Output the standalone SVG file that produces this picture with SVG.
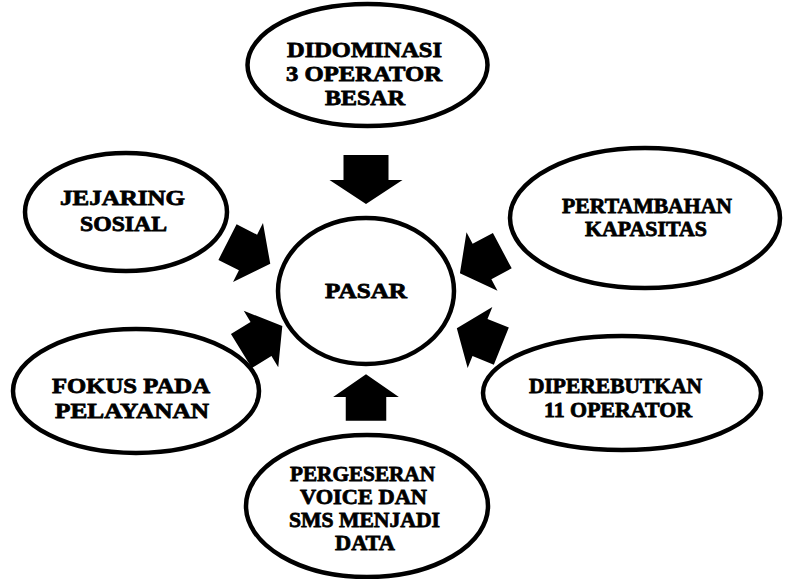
<svg xmlns="http://www.w3.org/2000/svg" xmlns:xlink="http://www.w3.org/1999/xlink" width="785" height="579" viewBox="0 0 785 579">
<style>
.node ellipse{fill:#fff;stroke:#000;stroke-width:4.5}
.node text{font-family:"Liberation Serif","Times New Roman",serif;font-weight:bold;font-size:22px;fill:#000;stroke:#000;stroke-width:0.8;text-anchor:middle}
.arrow{fill:#000}
</style>
<defs>
<path id="arrV" d="M-25,-22.5 L0,-22.5 L0,-36.5 L24,0 L0,36.5 L0,22.5 L-25,22.5 Z"/>
<path id="arrS" d="M-23,-20 L0,-20 L0,-33 L25,0 L0,33 L0,20 L-23,20 Z"/>
</defs>
<rect width="785" height="579" fill="#fff"/>
<g id="connectors" class="arrow">
<use xlink:href="#arrV" transform="translate(366,180) rotate(90)"/>
<use xlink:href="#arrV" transform="translate(366,397) rotate(-90) scale(0.95,0.9)"/>
<use xlink:href="#arrS" transform="translate(248,252.5) rotate(27)"/>
<use xlink:href="#arrS" transform="translate(261,339) rotate(-31.5)"/>
<use xlink:href="#arrS" transform="translate(482,261.5) rotate(152)"/>
<use xlink:href="#arrS" transform="translate(480,337.5) rotate(202)"/>
</g>
<g id="node-pasar" class="node">
<ellipse cx="366" cy="291" rx="88" ry="73"/>
<text x="366" y="298" textLength="82" lengthAdjust="spacingAndGlyphs">PASAR</text>
</g>
<g id="node-didominasi" class="node">
<ellipse cx="367.5" cy="65" rx="120" ry="61"/>
<text x="364.5" y="57" textLength="155" lengthAdjust="spacingAndGlyphs">DIDOMINASI</text>
<text x="364" y="81" textLength="156" lengthAdjust="spacingAndGlyphs">3 OPERATOR</text>
<text x="365" y="105" textLength="80" lengthAdjust="spacingAndGlyphs">BESAR</text>
</g>
<g id="node-jejaring" class="node">
<ellipse cx="126" cy="212" rx="101" ry="59"/>
<text x="122.5" y="205" textLength="125" lengthAdjust="spacingAndGlyphs">JEJARING</text>
<text x="123.5" y="231" textLength="87" lengthAdjust="spacingAndGlyphs">SOSIAL</text>
</g>
<g id="node-pertambahan" class="node">
<ellipse cx="645" cy="218" rx="135" ry="70"/>
<text x="647" y="213" textLength="170" lengthAdjust="spacingAndGlyphs">PERTAMBAHAN</text>
<text x="646" y="236" textLength="122" lengthAdjust="spacingAndGlyphs">KAPASITAS</text>
</g>
<g id="node-fokus" class="node">
<ellipse cx="136" cy="391" rx="123" ry="62"/>
<text x="131" y="393" textLength="158" lengthAdjust="spacingAndGlyphs">FOKUS PADA</text>
<text x="132" y="418" textLength="154" lengthAdjust="spacingAndGlyphs">PELAYANAN</text>
</g>
<g id="node-diperebutkan" class="node">
<ellipse cx="622" cy="393" rx="139" ry="57"/>
<text x="615.5" y="393" textLength="173" lengthAdjust="spacingAndGlyphs">DIPEREBUTKAN</text>
<text x="618" y="417" textLength="148" lengthAdjust="spacingAndGlyphs">11 OPERATOR</text>
</g>
<g id="node-pergeseran" class="node">
<ellipse cx="367" cy="506" rx="121" ry="71"/>
<text x="362.5" y="481" textLength="145" lengthAdjust="spacingAndGlyphs">PERGESERAN</text>
<text x="363.5" y="504" textLength="127" lengthAdjust="spacingAndGlyphs">VOICE DAN</text>
<text x="364.5" y="527" textLength="151" lengthAdjust="spacingAndGlyphs">SMS MENJADI</text>
<text x="365" y="550" textLength="60" lengthAdjust="spacingAndGlyphs">DATA</text>
</g>
</svg>
